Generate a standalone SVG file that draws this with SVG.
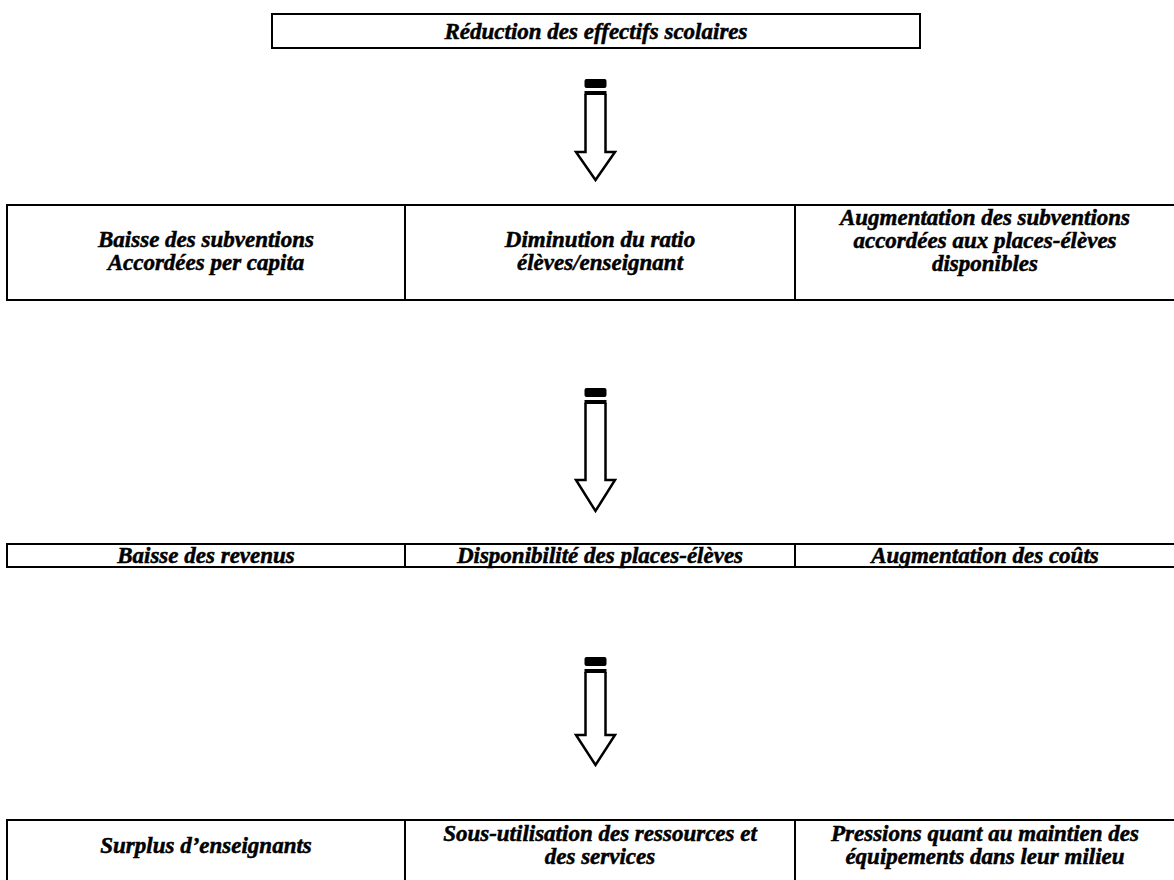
<svg xmlns="http://www.w3.org/2000/svg" width="1174" height="880" viewBox="0 0 1174 880">
<style>
.box{fill:#fff;stroke:#000;stroke-width:2}
.div{stroke:#000;stroke-width:2}
.t{font-family:"Liberation Serif","Times New Roman",serif;font-weight:bold;font-style:italic;font-size:23px;fill:#000;stroke:#000;stroke-width:0.5;text-anchor:middle}
.arr{fill:#fff;stroke:#000;stroke-width:2.5;stroke-linejoin:miter}
.cap{fill:#000}
</style>
<rect width="1174" height="880" fill="#fff"/>
<g id="n-top">
<rect class="box" x="272" y="14" width="648" height="34"/>
<text class="t" x="596" y="39">Réduction des effectifs scolaires</text>
</g>
<g id="row2">
<rect class="box" x="7" y="205" width="1180" height="95"/>
<line class="div" x1="405" y1="205" x2="405" y2="300"/>
<line class="div" x1="795" y1="205" x2="795" y2="300"/>
<g id="n-baisse-subv">
<text class="t" x="206" y="247">Baisse des subventions</text>
<text class="t" x="206" y="270">Accordées per capita</text>
</g>
<g id="n-diminution">
<text class="t" x="600" y="247">Diminution du ratio</text>
<text class="t" x="600" y="270">élèves/enseignant</text>
</g>
<g id="n-augmentation-subv">
<text class="t" x="985" y="225">Augmentation des subventions</text>
<text class="t" x="985" y="248">accordées aux places-élèves</text>
<text class="t" x="985" y="271">disponibles</text>
</g>
</g>
<g id="row3">
<rect class="box" x="7" y="544" width="1180" height="23"/>
<line class="div" x1="405" y1="544" x2="405" y2="567"/>
<line class="div" x1="795" y1="544" x2="795" y2="567"/>
<g id="n-baisse-rev"><text class="t" x="206" y="563">Baisse des revenus</text></g>
<g id="n-dispo"><text class="t" x="600" y="563">Disponibilité des places-élèves</text></g>
<g id="n-aug-couts"><text class="t" x="985" y="563">Augmentation des coûts</text></g>
</g>
<g id="row4">
<rect class="box" x="7" y="820" width="1180" height="80"/>
<line class="div" x1="405" y1="820" x2="405" y2="880"/>
<line class="div" x1="795" y1="820" x2="795" y2="880"/>
<g id="n-surplus"><text class="t" x="206" y="853">Surplus d’enseignants</text></g>
<g id="n-sous-util">
<text class="t" x="600" y="841">Sous-utilisation des ressources et</text>
<text class="t" x="600" y="864">des services</text>
</g>
<g id="n-pressions">
<text class="t" x="985" y="841">Pressions quant au maintien des</text>
<text class="t" x="985" y="864">équipements dans leur milieu</text>
</g>
</g>
<g id="connectors">
<g id="a1">
<path class="arr" d="M585.5,94 V152 H576 L595.5,180 L615,152 H605.5 V94"/>
<rect class="cap" x="584.5" y="79" width="22" height="9" rx="2"/>
<rect class="cap" x="584.5" y="91" width="22" height="4"/>
</g>
<g id="a2">
<path class="arr" d="M585.5,403 V480 H576 L595.5,511 L615,480 H605.5 V403"/>
<rect class="cap" x="584.5" y="388" width="22" height="9" rx="2"/>
<rect class="cap" x="584.5" y="400" width="22" height="4"/>
</g>
<g id="a3">
<path class="arr" d="M585.5,672 V735 H576 L595.5,765 L615,735 H605.5 V672"/>
<rect class="cap" x="584.5" y="657" width="22" height="9" rx="2"/>
<rect class="cap" x="584.5" y="669" width="22" height="4"/>
</g>
</g>
</svg>
